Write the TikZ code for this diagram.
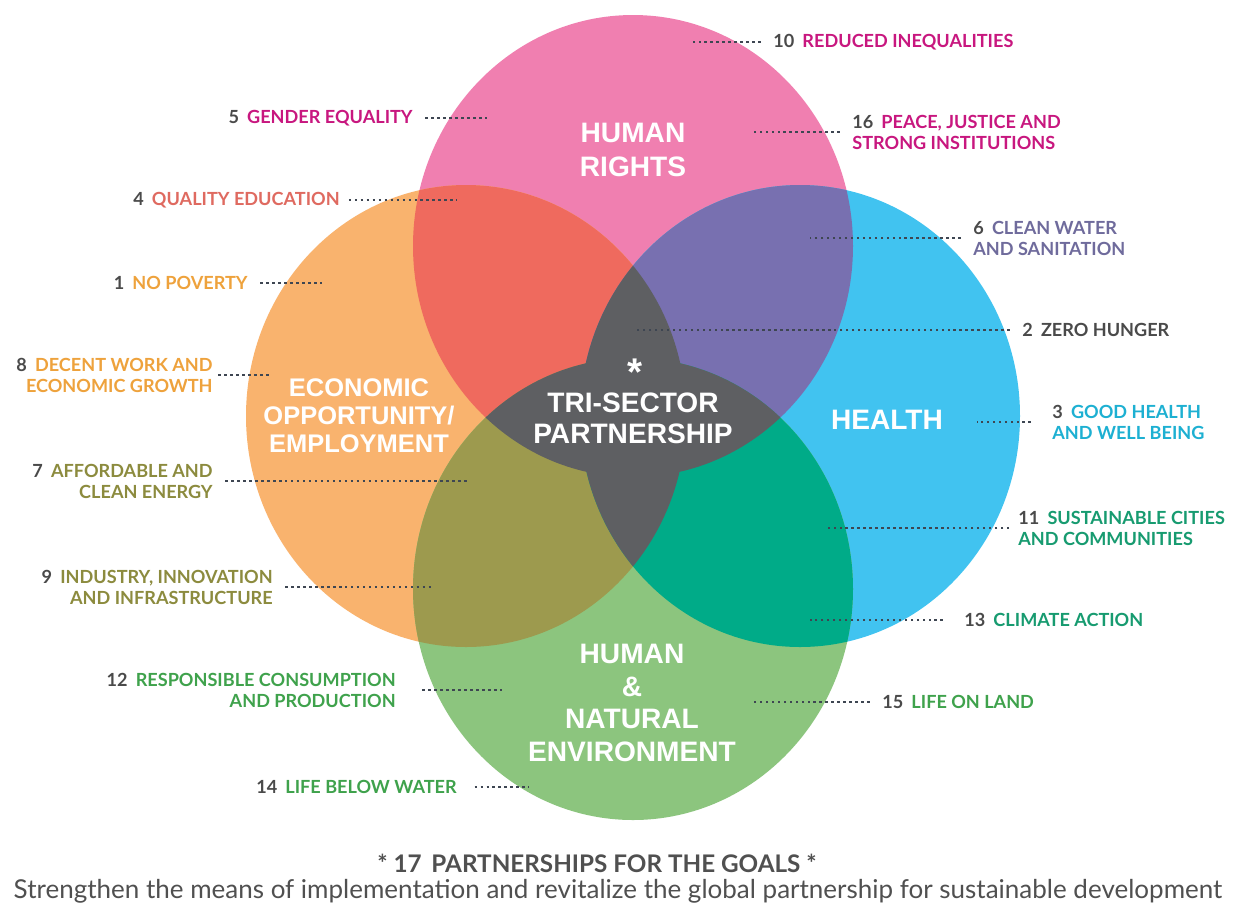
\documentclass[tikz,border=0pt]{standalone}
\usepackage{fontspec}
\usepackage{xcolor}
\usetikzlibrary{positioning}
\setmainfont{Lato}
\newfontfamily\headfont{Liberation Sans}

% ring colours
\definecolor{hrpink}{HTML}{F07FB0}
\definecolor{ecorange}{HTML}{F9B36E}
\definecolor{hlblue}{HTML}{41C3F0}
\definecolor{envgreen}{HTML}{8CC57E}
% overlaps
\definecolor{ovred}{HTML}{EF6A5E}
\definecolor{ovpurple}{HTML}{7870B0}
\definecolor{ovolive}{HTML}{9D9A4E}
\definecolor{ovteal}{HTML}{00AB88}
\definecolor{coregray}{HTML}{5E5F62}
% text
\definecolor{numgray}{HTML}{4A4A4A}
\definecolor{dotgray}{HTML}{3E4652}
\definecolor{footgray}{HTML}{505050}
\definecolor{tmagenta}{HTML}{C8177F}
\definecolor{tsalmon}{HTML}{DF6A60}
\definecolor{torange}{HTML}{EEA23C}
\definecolor{tpurple}{HTML}{6F6B9C}
\definecolor{tcyan}{HTML}{1DB0D2}
\definecolor{tolive}{HTML}{8C8B3E}
\definecolor{tteal}{HTML}{179B70}
\definecolor{tgreen}{HTML}{3FA24C}

\tikzstyle{ringtitle} = [font=\headfont\bfseries\fontsize{16}{19.8}\selectfont, text=white, align=center, inner sep=0pt]
\tikzstyle{goaltext} = [font=\bfseries\fontsize{10.3}{11.9}\selectfont, inner sep=0pt]
\tikzstyle{leader} = [line width=1.4pt, dash pattern=on 1.4pt off 2pt, color=dotgray, shorten <=7pt]
\tikzstyle{ring} = [x radius=220, y radius=231]

\newcommand{\gnum}[1]{\textcolor{numgray}{#1}\hspace{0.45em}}

\begin{document}
\begin{tikzpicture}[x=0.02cm, y=-0.02cm]
\fill[white] (0,0) rectangle (1237,904);
\useasboundingbox (0,0) rectangle (1237,904);

% Centres
\coordinate (hr) at (633,246);
\coordinate (ec) at (466,416);
\coordinate (hl) at (800,416);
\coordinate (en) at (633,589);

% Rings
\fill[hrpink] (hr) ellipse [ring];
\fill[ecorange] (ec) ellipse [ring];
\fill[hlblue] (hl) ellipse [ring];
\fill[envgreen] (en) ellipse [ring];

% Overlaps
\begin{scope}
  \clip (hr) ellipse [ring];
  \fill[ovred] (ec) ellipse [ring];
  \fill[ovpurple] (hl) ellipse [ring];
\end{scope}
\begin{scope}
  \clip (en) ellipse [ring];
  \fill[ovolive] (ec) ellipse [ring];
  \fill[ovteal] (hl) ellipse [ring];
\end{scope}
\begin{scope}
  \clip (ec) ellipse [ring];
  \fill[coregray] (hl) ellipse [ring];
\end{scope}
\begin{scope}
  \clip (hr) ellipse [ring];
  \fill[coregray] (en) ellipse [ring];
\end{scope}

% Titles
\node[ringtitle] (hrt) at (633,150) {HUMAN\\RIGHTS};
\node[ringtitle, font=\headfont\bfseries\fontsize{14.5}{15.9}\selectfont] (ect) at (359,416) {ECONOMIC\\OPPORTUNITY/\\EMPLOYMENT};
\node[ringtitle] (hlt) at (887,420) {HEALTH};
\node[ringtitle, font=\headfont\bfseries\fontsize{16}{18.7}\selectfont] (ent) at (632,703) {HUMAN\\\&\\NATURAL\\ENVIRONMENT};
\node[ringtitle, font=\headfont\bfseries\fontsize{22}{22}\selectfont] (ast) at (635,372) {*};
\node[ringtitle, font=\headfont\bfseries\fontsize{16}{17.6}\selectfont] (tst) at (633,418) {TRI-SECTOR\\PARTNERSHIP};

% Goals, left side
\node[goaltext, anchor=east, text=tmagenta] (g5) at (413,118) {\gnum{5}GENDER EQUALITY};
\node[goaltext, anchor=east, text=tsalmon] (g4) at (340,200) {\gnum{4}QUALITY EDUCATION};
\node[goaltext, anchor=east, text=torange] (g1) at (248,283) {\gnum{1}NO POVERTY};
\node[goaltext, anchor=east, text=torange, align=right] (g8) at (213,375) {\gnum{8}DECENT WORK AND\\ECONOMIC GROWTH};
\node[goaltext, anchor=east, text=tolive, align=right] (g7) at (213,481) {\gnum{7}AFFORDABLE AND\\CLEAN ENERGY};
\node[goaltext, anchor=east, text=tolive, align=right] (g9) at (273,587) {\gnum{9}INDUSTRY, INNOVATION\\AND INFRASTRUCTURE};
\node[goaltext, anchor=east, text=tgreen, align=right] (g12) at (396,690) {\gnum{12}RESPONSIBLE CONSUMPTION\\AND PRODUCTION};
\node[goaltext, anchor=east, text=tgreen] (g14) at (457,787) {\gnum{14}LIFE BELOW WATER};

% Goals, right side
\node[goaltext, anchor=west, text=tmagenta] (g10) at (773,42) {\gnum{10}REDUCED INEQUALITIES};
\node[goaltext, anchor=west, text=tmagenta, align=left] (g16) at (852,132) {\gnum{16}PEACE, JUSTICE AND\\STRONG INSTITUTIONS};
\node[goaltext, anchor=west, text=tpurple, align=left] (g6) at (973,238) {\gnum{6}CLEAN WATER\\AND SANITATION};
\node[goaltext, anchor=west, text=numgray] (g2) at (1022,330) {\gnum{2}ZERO HUNGER};
\node[goaltext, anchor=west, text=tcyan, align=left] (g3) at (1052,422) {\gnum{3}GOOD HEALTH\\AND WELL BEING};
\node[goaltext, anchor=west, text=tteal, align=left] (g11) at (1018,528) {\gnum{11}SUSTAINABLE CITIES\\AND COMMUNITIES};
\node[goaltext, anchor=west, text=tteal] (g13) at (964,620) {\gnum{13}CLIMATE ACTION};
\node[goaltext, anchor=west, text=tgreen] (g15) at (882,702) {\gnum{15}LIFE ON LAND};

% Leader ends
\coordinate (d5) at (487,118);
\coordinate (d4) at (457,200);
\coordinate (d1) at (325,283);
\coordinate (d8) at (270,375);
\coordinate (d7) at (467,481);
\coordinate (d9) at (434,587);
\coordinate (d12) at (502,690);
\coordinate (d14) at (529,787);
\coordinate (d10) at (693,42);
\coordinate (d16) at (754,132);
\coordinate (d6) at (810,238);
\coordinate (d2) at (635,330);
\coordinate (d3) at (977,422);
\coordinate (d11) at (825,528);
\coordinate (d13) at (810,620);
\coordinate (d15) at (754,702);

% Leaders
\draw[leader] (g5.east) -- (d5);
\draw[leader, shorten <=5pt] (g4.east) -- (d4);
\draw[leader] (g1.east) -- (d1);
\draw[leader, shorten <=3pt] (g8.east) -- (d8);
\draw[leader] (g7.east) -- (d7);
\draw[leader] (g9.east) -- (d9);
\draw[leader, shorten <=15pt] (g12.east) -- (d12);
\draw[leader, shorten <=10pt] (g14.east) -- (d14);
\draw[leader] (g10.west) -- (d10);
\draw[leader] (g16.west) -- (d16);
\draw[leader] (g6.west) -- (d6);
\draw[leader] (g2.west) -- (d2);
\draw[leader, shorten <=12pt] (g3.west) -- (d3);
\draw[leader, shorten <=5pt] (g11.west) -- (d11);
\draw[leader, shorten <=12pt] (g13.west) -- (d13);
\draw[leader] (g15.west) -- (d15);

% Footer
\node[font=\bfseries\fontsize{13.8}{15}\selectfont, text=footgray] (p17) at (597,863) {* 17\hspace{0.4em}PARTNERSHIPS FOR THE GOALS *};
\node[font=\fontsize{14.8}{16}\selectfont, text=footgray] (p17txt) at (618,891) {Strengthen the means of implementation and revitalize the global partnership for sustainable development};
\end{tikzpicture}
\end{document}
